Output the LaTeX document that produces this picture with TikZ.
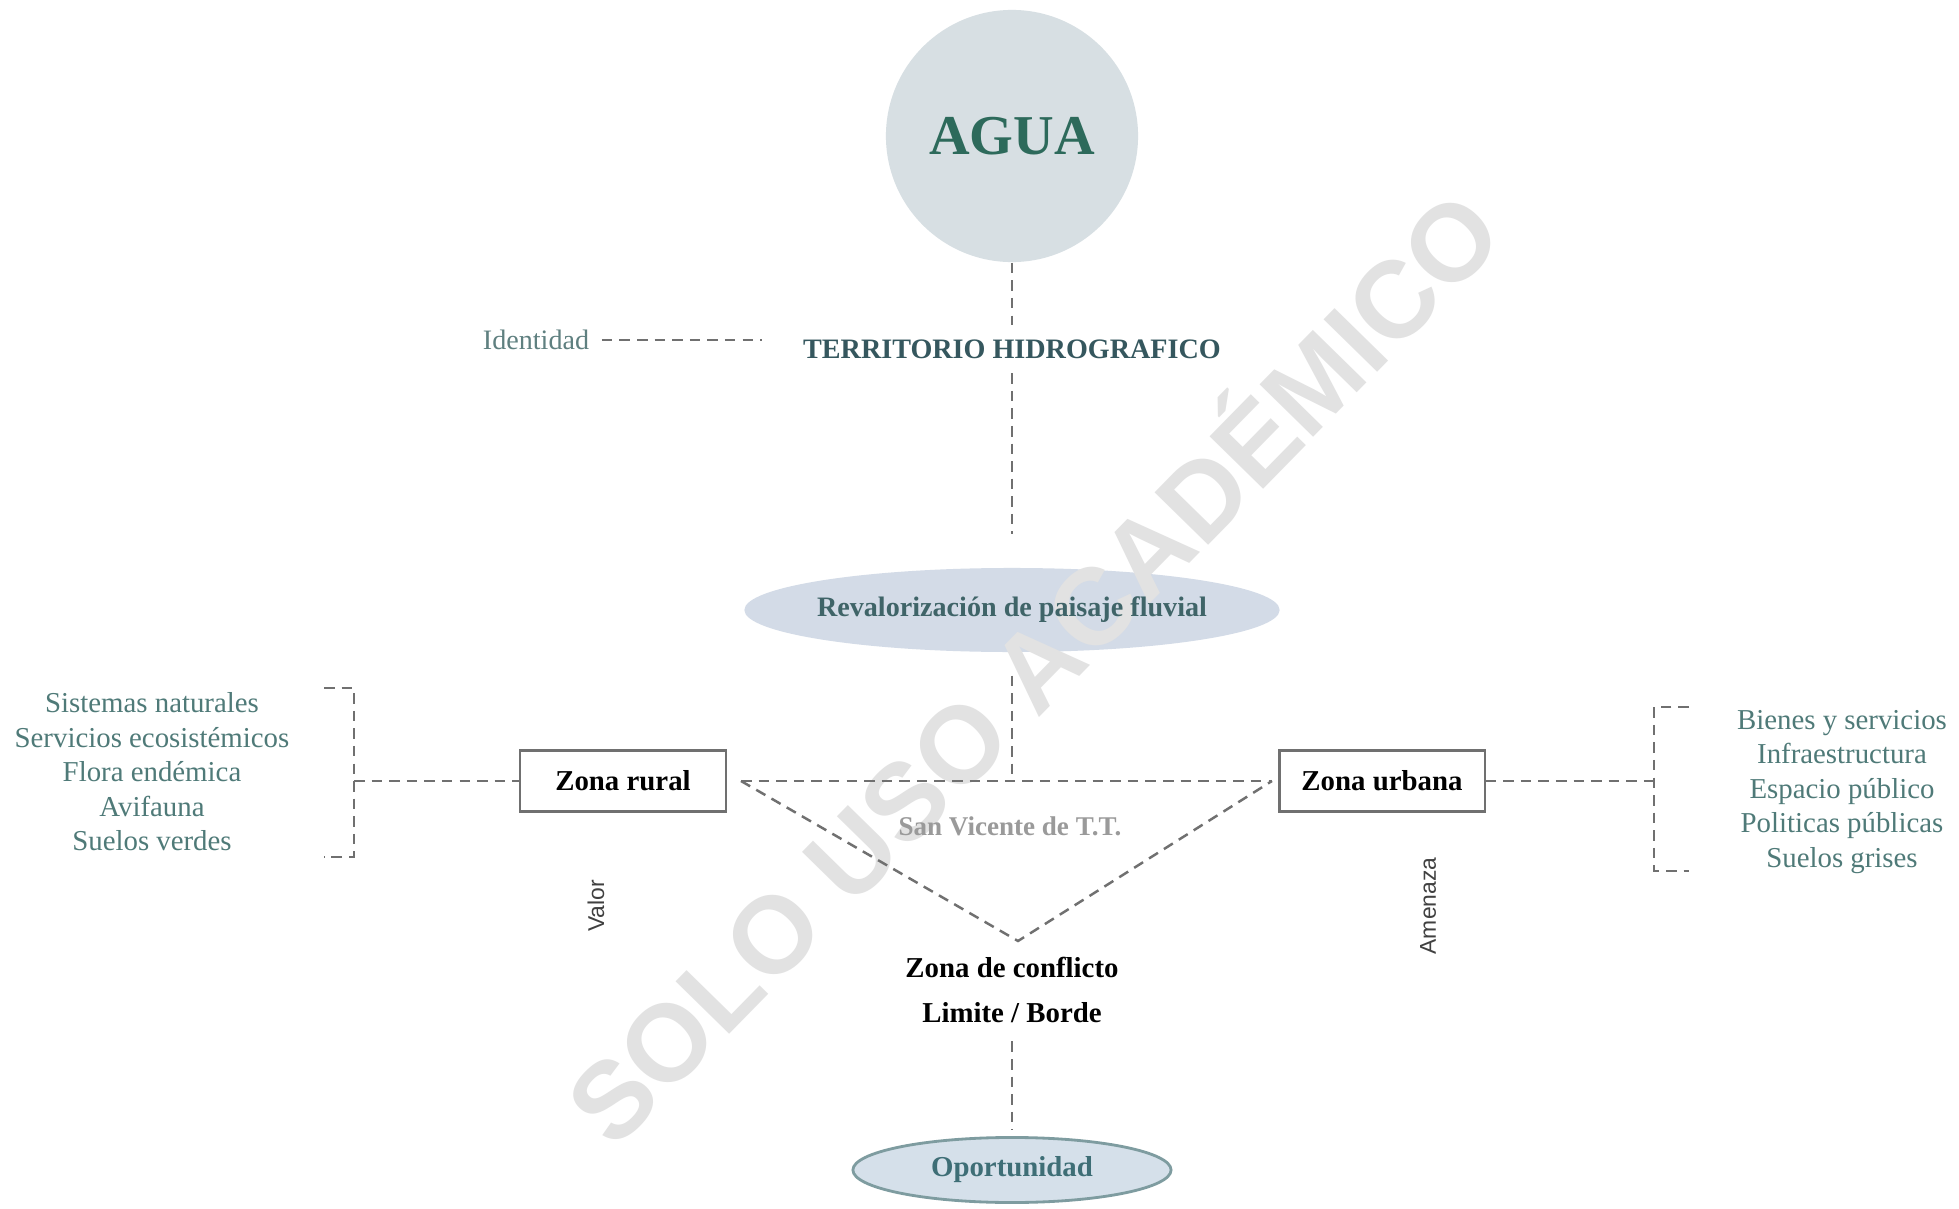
\documentclass[tikz,border=0pt]{standalone}
\usepackage{fontspec}
\setmainfont{Liberation Serif}
\newfontfamily\sansf{Liberation Sans}
\usetikzlibrary{shapes.geometric}
\definecolor{dashc}{HTML}{707070}
\definecolor{aguafill}{HTML}{D7DFE3}
\definecolor{aguatext}{HTML}{2D6A5B}
\definecolor{terrc}{HTML}{35575E}
\definecolor{identc}{HTML}{5F8080}
\definecolor{revfill}{HTML}{D3DBE7}
\definecolor{revtext}{HTML}{3F6468}
\definecolor{listc}{HTML}{4F7A78}
\definecolor{boxc}{HTML}{707070}
\definecolor{svc}{HTML}{9A9A9A}
\definecolor{oportfill}{HTML}{D5E0EA}
\definecolor{oportdraw}{HTML}{7E9CA0}
\definecolor{oporttext}{HTML}{3E6E76}
\definecolor{wmc}{HTML}{E2E2E2}
\pgfdeclarelayer{fills}
\pgfdeclarelayer{wmark}
\pgfsetlayers{fills,wmark,main}
\begin{document}
\begin{tikzpicture}[x=0.01cm,y=-0.01cm,
  conn/.style={draw=dashc, line width=0.7pt, dash pattern=on 3pt off 2pt},
  zbox/.style={draw=boxc, line width=0.6pt, minimum width=2.05cm, minimum height=0.61cm, inner sep=0pt, font=\fontsize{8.2}{10}\selectfont\bfseries},
  list/.style={align=center, text=listc, font=\fontsize{8.2}{9.8}\selectfont, inner sep=0pt},
  side/.style={rotate=90, font=\sansf\fontsize{6.5}{8}\selectfont, text=black!75},
]
\begin{pgfonlayer}{fills}
\useasboundingbox[fill=white] (0,0) rectangle (1959,1209);
\end{pgfonlayer}

\node[circle, fill=aguafill, minimum size=2.52cm, inner sep=0pt, text=aguatext, font=\fontsize{16}{18}\selectfont\bfseries] (agua) at (1012,136) {AGUA};
\node[text=terrc, font=\fontsize{8}{10}\selectfont\bfseries, inner sep=4pt] (terr) at (1012,349) {TERRITORIO HIDROGRAFICO};
\node[text=identc, font=\fontsize{8}{10}\selectfont, inner sep=2pt] (ident) at (536,340) {Identidad};
\node[ellipse, minimum width=5.35cm, minimum height=0.84cm, inner sep=0pt, text=revtext, font=\fontsize{8}{10}\selectfont\bfseries] (rev) at (1012,610) {Revalorización de paisaje fluvial};
\begin{pgfonlayer}{fills}
\fill[revfill] (rev.center) ellipse [x radius=2.675cm, y radius=0.42cm];
\end{pgfonlayer}

\draw[conn] (agua.south) -- (terr.north);
\draw[conn, shorten >=0.26cm, shorten <=0.05cm] (ident.east) -- (ident.east -| terr.west);
\draw[conn, shorten >=0.33cm] (terr.south) -- (rev.north);

\node[zbox] (rural) at (623,781) {Zona rural};
\node[zbox] (urb) at (1382,781) {Zona urbana};

\coordinate (tl) at (741,781);
\coordinate (tr) at (1272,781);
\coordinate (tb) at (1018,941);
\draw[conn, shorten <=0.23cm] (rev.south) -- (rev.south |- tl);
\draw[conn] (tl) -- (tr);
\draw[conn] (tl) -- (tb) -- (tr);

\node[text=svc, font=\fontsize{7.7}{9}\selectfont\bfseries] (sv) at (1010,826) {San Vicente de T.T.};
\node[align=center, font=\fontsize{8.2}{13}\selectfont\bfseries, inner sep=5pt] (conf) at (1012,990) {Zona de conflicto\\Limite / Borde};
\node[ellipse, draw=oportdraw, line width=0.8pt, fill=oportfill, minimum width=3.18cm, minimum height=0.65cm, inner sep=0pt, text=oporttext, font=\fontsize{8.2}{10}\selectfont\bfseries] (oport) at (1012,1170) {Oportunidad};
\draw[conn, shorten >=0.06cm] (conf.south) -- (oport.north);

% left bracket
\coordinate (lb) at (354,781);
\draw[conn] (324,688) -- (354,688) -- (354,857) -- (324,857);
\draw[conn] (lb) -- (rural.west);
% right bracket
\coordinate (rb) at (1654,781);
\draw[conn] (urb.east) -- (rb);
\draw[conn] (1689,707) -- (1654,707) -- (1654,871) -- (1689,871);

\node[list] (llist) at (152,772) {Sistemas naturales\\Servicios ecosistémicos\\Flora endémica\\Avifauna\\Suelos verdes};
\node[list] (rlist) at (1842,792) {Bienes y servicios\\Infraestructura\\Espacio público\\Politicas públicas\\Suelos grises};

\node[side] (valor) at (596,906) {Valor};
\node[side] (amen) at (1428,906) {Amenaza};

\begin{pgfonlayer}{wmark}
\node[rotate=45.6, font=\sansf\bfseries\fontsize{31}{36}\selectfont, text=wmc] (wm) at (1027,662) {SOLO USO ACADÉMICO};
\end{pgfonlayer}
\end{tikzpicture}
\end{document}
